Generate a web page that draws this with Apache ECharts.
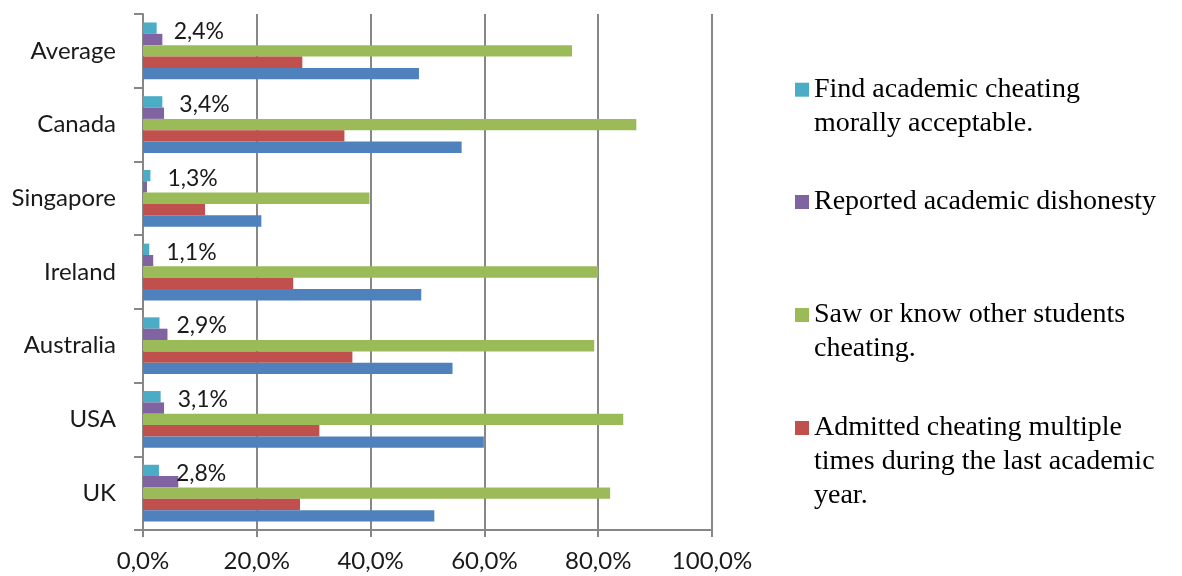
<!DOCTYPE html>
<html>
<head>
<meta charset="utf-8">
<script src="https://cdn.jsdelivr.net/npm/echarts@6/dist/echarts.min.js"></script>
<style>
html,body{margin:0;padding:0;background:#fff;}
#chart{width:1182px;height:576px;}
</style>
</head>
<body>
<div id="chart"></div>
<script>
// Categories (bottom to top)
const categories = ['UK', 'USA', 'Australia', 'Ireland', 'Singapore', 'Canada', 'Average'];

// Series values (%)
const admittedOnce = [51.2, 59.9, 54.4, 48.9, 20.8, 56.0, 48.5];          // blue (legend entry not visible)
const admittedMultiple = [27.6, 31.0, 36.8, 26.4, 10.9, 35.4, 28.0];      // red
const sawOthers = [82.1, 84.4, 79.3, 80.0, 39.8, 86.7, 75.4];             // green
const reported = [6.2, 3.7, 4.3, 1.8, 0.7, 3.7, 3.4];                     // purple
const moralAcceptable = [2.8, 3.1, 2.9, 1.1, 1.3, 3.4, 2.4];              // cyan

// Axis ticks
const xTicks = [0, 20, 40, 60, 80, 100];

const names = {
  blue: 'Admitted cheating at least once',
  red: 'Admitted cheating multiple\ntimes during the last academic\nyear.',
  green: 'Saw or know other students\ncheating.',
  purple: 'Reported academic dishonesty',
  cyan: 'Find academic cheating\nmorally acceptable.'
};

const fmt = v => v.toFixed(1).replace('.', ',') + '%';
const LH = 34;
const legendFont = { fontFamily: 'Liberation Serif', fontSize: 28, color: '#000', lineHeight: LH };

function mkLegend(name, iconCenter, lines) {
  const boxH = (2 * lines - 1) * LH;
  return {
    data: [name],
    left: 795,
    top: iconCenter - boxH / 2,
    padding: 0,
    itemWidth: 14,
    itemHeight: 14,
    itemGap: 10,
    icon: 'rect',
    selectedMode: false,
    formatter: n => '\n'.repeat(lines - 1) + n,
    textStyle: legendFont
  };
}

const chart = echarts.init(document.getElementById('chart'), null, { renderer: 'canvas' });
const barBase = { type: 'bar', barGap: '0%', barCategoryGap: '23%' };

chart.setOption({
  animation: false,
  backgroundColor: '#ffffff',
  grid: { left: 143, right: 470, top: 14, bottom: 46, containLabel: false },
  legend: [
    mkLegend(names.cyan, 89.7, 2),
    mkLegend(names.purple, 202, 1),
    mkLegend(names.green, 315, 2),
    mkLegend(names.red, 428, 3)
  ],
  xAxis: {
    type: 'value',
    min: xTicks[0],
    max: xTicks[xTicks.length - 1],
    interval: 20,
    axisLine: { show: true, lineStyle: { color: '#878787', width: 2 } },
    axisTick: { show: true, length: 7, lineStyle: { color: '#878787', width: 2 } },
    splitLine: { show: true, lineStyle: { color: '#878787', width: 2 } },
    axisLabel: {
      formatter: v => fmt(v),
      margin: 19,
      fontFamily: 'Lato',
      fontSize: 24,
      color: '#1a1a1a'
    }
  },
  yAxis: {
    type: 'category',
    data: categories,
    axisLine: { show: true, lineStyle: { color: '#878787', width: 2 } },
    axisTick: { show: true, length: 9, lineStyle: { color: '#878787', width: 2 } },
    axisLabel: {
      margin: 27,
      fontFamily: 'Lato',
      fontSize: 24,
      color: '#1a1a1a'
    }
  },
  series: [
    Object.assign({}, barBase, {
      name: names.cyan, data: moralAcceptable, itemStyle: { color: '#4BACC6' },
      label: {
        show: true, position: 'right', distance: 17, offset: [0, 3],
        formatter: p => fmt(p.value),
        fontFamily: 'Lato', fontSize: 23, color: '#1a1a1a'
      }
    }),
    Object.assign({}, barBase, { name: names.purple, data: reported, itemStyle: { color: '#8064A2' } }),
    Object.assign({}, barBase, { name: names.green, data: sawOthers, itemStyle: { color: '#9BBB59' } }),
    Object.assign({}, barBase, { name: names.red, data: admittedMultiple, itemStyle: { color: '#C0504D' } }),
    Object.assign({}, barBase, { name: names.blue, data: admittedOnce, itemStyle: { color: '#4F81BD' } })
  ]
});
</script>
</body>
</html>
